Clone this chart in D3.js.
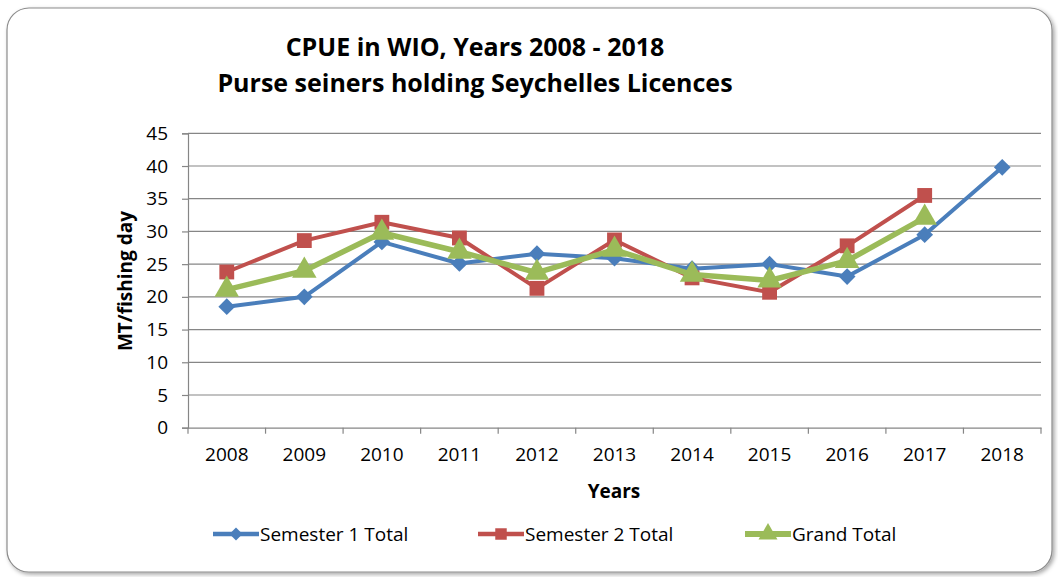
<!DOCTYPE html>
<html>
<head>
<meta charset="utf-8">
<script src="https://cdn.jsdelivr.net/npm/d3@7"></script>
<style>
  body { margin: 0; background: #fff; }
  svg text { font-family: "Open Sans", Lato, sans-serif; }
</style>
</head>
<body>
<svg id="chart" width="1058" height="577"></svg>
<script>
// data
const years = ["2008","2009","2010","2011","2012","2013","2014","2015","2016","2017","2018"];
const semester1 = [18.5, 20.0, 28.4, 25.1, 26.6, 25.9, 24.3, 25.0, 23.1, 29.5, 39.8];
const semester2 = [23.8, 28.6, 31.4, 29.0, 21.3, 28.7, 22.9, 20.7, 27.8, 35.5, null];
const grandTotal = [21.1, 24.0, 29.8, 26.9, 23.7, 27.2, 23.4, 22.5, 25.5, 32.1, null];
const yTicks = [0, 5, 10, 15, 20, 25, 30, 35, 40, 45];

// diamond = square turned 45 degrees, like the Excel marker
const series = [
  { name: "Semester 1 Total", values: semester1, color: "#4a7ebb", width: 4, marker: d3.symbolSquare, rot: 45, size: 140 },
  { name: "Semester 2 Total", values: semester2, color: "#c0504d", width: 4, marker: d3.symbolSquare, rot: 0, size: 220 },
  { name: "Grand Total", values: grandTotal, color: "#9bbb59", width: 5.5, marker: d3.symbolTriangle, rot: 0, size: 260 },
];

const svg = d3.select("#chart");

// outer frame with soft shadow
const defs = svg.append("defs");
const f = defs.append("filter").attr("id", "shadow").attr("x", "-5%").attr("y", "-5%").attr("width", "110%").attr("height", "110%");
f.append("feDropShadow").attr("dx", 2).attr("dy", 2).attr("stdDeviation", 2).attr("flood-color", "#000").attr("flood-opacity", 0.35);

svg.append("rect")
  .attr("x", 7).attr("y", 8).attr("width", 1045).attr("height", 564)
  .attr("rx", 22).attr("ry", 22)
  .attr("fill", "#fff").attr("stroke", "#8c8c8c").attr("stroke-width", 1.2)
  .attr("filter", "url(#shadow)");

const plot = { left: 188, right: 1041, top: 133.3, bottom: 427.7 };

const x = d3.scaleBand().domain(years).range([plot.left, plot.right]);
const y = d3.scaleLinear().domain([0, 45]).range([plot.bottom, plot.top]);

// gridlines
svg.append("g")
  .selectAll("line")
  .data(yTicks.filter(t => t > 0))
  .join("line")
  .attr("x1", plot.left).attr("x2", plot.right)
  .attr("y1", d => y(d)).attr("y2", d => y(d))
  .attr("stroke", "#868686").attr("stroke-width", 1.2);

// y axis
const yAxis = svg.append("g")
  .attr("transform", `translate(${plot.left},0)`)
  .call(d3.axisLeft(y).tickValues(yTicks).tickSize(6).tickPadding(14));
yAxis.select(".domain").attr("stroke", "#868686").attr("stroke-width", 1.2);
yAxis.selectAll(".tick line").attr("stroke", "#868686").attr("stroke-width", 1.2);
yAxis.selectAll(".tick text").attr("font-size", 19).attr("fill", "#000");

// x axis, ticks at category boundaries
const xAxis = svg.append("g")
  .attr("transform", `translate(0,${plot.bottom})`)
  .call(d3.axisBottom(x).tickSize(0).tickPadding(20));
xAxis.select(".domain").attr("stroke", "#868686").attr("stroke-width", 1.2);
xAxis.selectAll(".tick text").attr("font-size", 19).attr("fill", "#000");
xAxis.selectAll("line.boundary")
  .data(years.map(d => x(d)).concat([x(years[years.length - 1]) + x.bandwidth()]))
  .join("line")
  .attr("class", "boundary")
  .attr("x1", d => d).attr("x2", d => d)
  .attr("y1", 0).attr("y2", 6)
  .attr("stroke", "#868686").attr("stroke-width", 1.2);

// lines + markers
const line = d3.line()
  .defined(d => d.v !== null)
  .x(d => x(d.year) + x.bandwidth() / 2)
  .y(d => y(d.v));

series.forEach(s => {
  const pts = years.map((yr, i) => ({ year: yr, v: s.values[i] }));
  svg.append("path")
    .datum(pts)
    .attr("d", line)
    .attr("fill", "none")
    .attr("stroke", s.color)
    .attr("stroke-width", s.width)
    .attr("stroke-linejoin", "round");
  svg.append("g")
    .selectAll("path")
    .data(pts.filter(d => d.v !== null))
    .join("path")
    .attr("d", d3.symbol().type(s.marker).size(s.size))
    .attr("transform", d => `translate(${x(d.year) + x.bandwidth() / 2},${y(d.v)}) rotate(${s.rot})`)
    .attr("fill", s.color);
});

// titles
svg.append("text")
  .attr("x", 475).attr("y", 56)
  .attr("text-anchor", "middle")
  .attr("font-size", 25).attr("font-weight", "bold")
  .text("CPUE in WIO, Years 2008 - 2018");
svg.append("text")
  .attr("x", 475).attr("y", 92)
  .attr("text-anchor", "middle")
  .attr("font-size", 25).attr("font-weight", "bold")
  .text("Purse seiners holding Seychelles Licences");

svg.append("text")
  .attr("x", 614).attr("y", 498)
  .attr("text-anchor", "middle")
  .attr("font-size", 19).attr("font-weight", "bold")
  .text("Years");

svg.append("text")
  .attr("transform", "translate(132,281) rotate(-90)")
  .attr("text-anchor", "middle")
  .attr("font-size", 19).attr("font-weight", "bold")
  .text("MT/fishing day");

// legend
const legendX = [213, 478, 745];
const legend = svg.append("g")
  .selectAll("g")
  .data(series)
  .join("g")
  .attr("transform", (d, i) => `translate(${legendX[i]},534)`);
legend.append("line")
  .attr("x1", 0).attr("x2", 46)
  .attr("stroke", d => d.color)
  .attr("stroke-width", d => d.width + 0.5);
legend.append("path")
  .attr("d", d => d3.symbol().type(d.marker).size(d.size * 0.6)())
  .attr("transform", d => `translate(23,0) rotate(${d.rot})`)
  .attr("fill", d => d.color);
legend.append("text")
  .attr("x", 47).attr("y", 7)
  .attr("font-size", 19)
  .text(d => d.name);
</script>
</body>
</html>
